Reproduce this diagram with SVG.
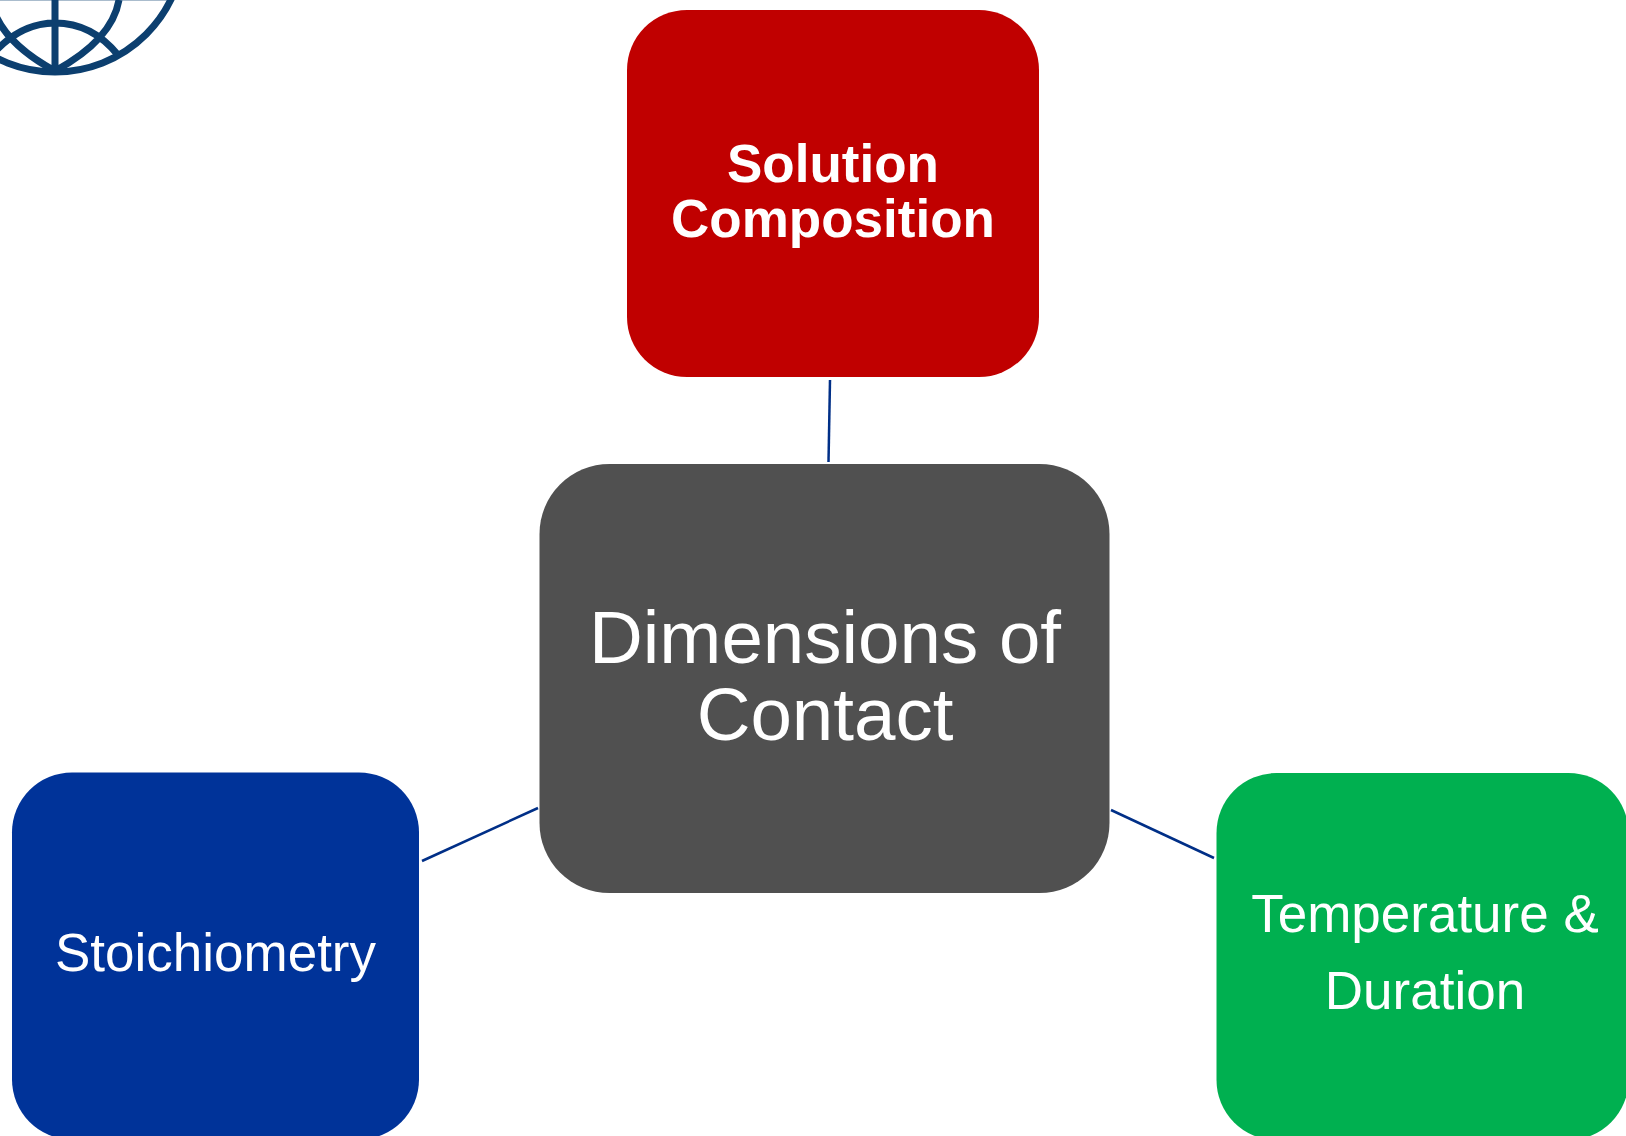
<svg xmlns="http://www.w3.org/2000/svg" width="1626" height="1136" viewBox="0 0 1626 1136">
<style>
text{font-family:"Liberation Sans",Arial,sans-serif;fill:#fff;text-anchor:middle}
.c{stroke:#002f87;stroke-width:2.500;fill:none}
.g{stroke:#0c3f6f;stroke-width:7;fill:none}
</style>
<rect width="1626" height="1136" fill="#fff"/>
<g id="logo">
<circle class="g" cx="55" cy="-57" r="129"/>
<path class="g" d="M55 0V72M-9 0Q-2 40 55 71Q112 40 119 0M-8 55Q20 23 55 23Q92 23 118 55"/>
<rect x="0" y="0" width="172" height="1" fill="#0c3f6f" opacity="0.350"/>
</g>
<g id="connectors">
<line class="c" x1="830" y1="380" x2="828.500" y2="462"/>
<line class="c" x1="422" y1="861" x2="538" y2="808"/>
<line class="c" x1="1111" y1="810" x2="1214" y2="858"/>
</g>
<g id="solution"><rect x="627" y="10" width="412" height="367" rx="60" fill="#c00000"/>
<text x="833" y="182" font-size="53" font-weight="700">Solution</text><text x="833" y="237" font-size="53" font-weight="700">Composition</text></g>
<g id="center"><rect x="539.500" y="464" width="570" height="429" rx="70" fill="#505050"/>
<text x="825" y="663" font-size="74.500">Dimensions of</text><text x="825" y="740" font-size="74.500">Contact</text></g>
<g id="stoichiometry"><rect x="12" y="772.500" width="407" height="367" rx="60" fill="#003399"/>
<text x="215.500" y="971" font-size="53">Stoichiometry</text></g>
<g id="temperature"><rect x="1216.500" y="773" width="412" height="367" rx="60" fill="#00b050"/>
<text x="1425" y="932" font-size="53">Temperature &amp;</text><text x="1425" y="1009" font-size="53">Duration</text></g>
</svg>
